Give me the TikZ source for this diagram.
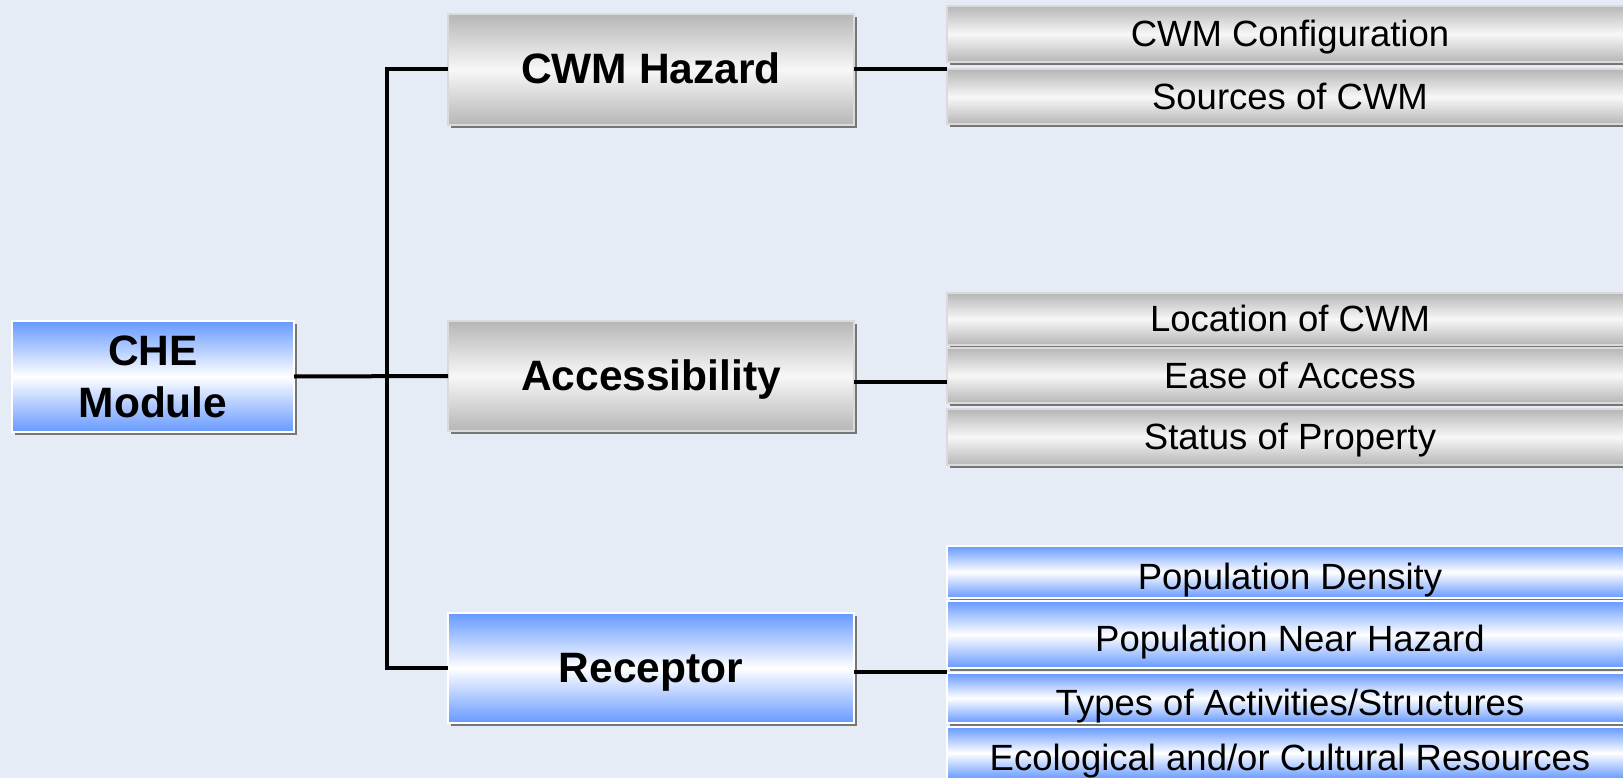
\documentclass[tikz,border=0pt]{standalone}
\usepackage{fontspec}
\setmainfont{Liberation Sans}
\usetikzlibrary{shadows}
\definecolor{bg}{RGB}{230,236,245}
\definecolor{boxblue}{RGB}{102,153,255}
\definecolor{boxgray}{RGB}{182,182,182}
\definecolor{shadowgray}{RGB}{118,118,118}
\definecolor{edgegray}{RGB}{218,218,218}
\tikzset{
  basebox/.style={rectangle, inner sep=0pt, outer sep=0pt, line width=2pt,
    drop shadow={shadow xshift=3pt, shadow yshift=-3pt, fill=shadowgray, opacity=1}},
  bluebox/.style={basebox, draw=white, top color=boxblue, bottom color=boxblue, middle color=white},
  graybox/.style={basebox, draw=edgegray, top color=boxgray, bottom color=boxgray, middle color=white!97!black},
  mainfont/.style={font=\fontsize{42.5}{52}\selectfont\bfseries, align=center},
  mainline/.style={mainfont, text height=38pt, text depth=9pt},
  subfont/.style={font=\fontsize{36.5}{40}\selectfont, text height=32pt, text depth=7pt},
  subblue/.style={font=\fontsize{36.5}{40}\selectfont, text height=41pt, text depth=7pt},
  conn/.style={line width=4pt, black}
}
\begin{document}
\begin{tikzpicture}[x=1pt,y=-1pt]
\useasboundingbox (0,0) rectangle (1623,778);
\clip (0,0) rectangle (1623,778);
\fill[bg] (0,0) rectangle (1623,778);

% left root
\node[bluebox, mainfont, minimum width=282pt, minimum height=111pt] (che) at (153,376.5) {CHE\\Module};

% middle boxes
\node[graybox, mainline, minimum width=406pt, minimum height=111pt] (haz) at (651,69.5) {CWM Hazard};
\node[graybox, mainline, minimum width=406pt, minimum height=110pt] (acc) at (651,376) {Accessibility};
\node[bluebox, mainline, minimum width=406pt, minimum height=110pt] (rec) at (651,668) {Receptor};

% right boxes
\node[graybox, subfont, minimum width=686pt, minimum height=56pt] (cfg) at (1290,34) {CWM Configuration};
\node[graybox, subfont, minimum width=686pt, minimum height=55pt] (src) at (1290,97) {Sources of CWM};

\node[graybox, subfont, minimum width=686pt, minimum height=52pt] (loc) at (1290,319) {Location of CWM};
\node[graybox, subfont, minimum width=686pt, minimum height=55pt] (ease) at (1290,375.5) {Ease of Access};
\node[graybox, subfont, minimum width=686pt, minimum height=56pt] (stat) at (1290,437) {Status of Property};

\node[bluebox, subblue, minimum width=686pt, minimum height=52pt] (pd) at (1290,572) {Population Density};
\node[bluebox, subblue, minimum width=686pt, minimum height=67pt] (pnh) at (1290,634.5) {Population Near Hazard};
\node[bluebox, subblue, minimum width=686pt, minimum height=50pt] (types) at (1290,698) {Types of Activities/Structures};
\node[bluebox, subblue, minimum width=686pt, minimum height=52pt] (eco) at (1290,753) {Ecological and/or Cultural Resources};

% connectors
\draw[conn] (che.east) -- (acc.west);
\draw[conn] (haz.west) -- ++(-61,0) coordinate (trunk) |- (rec.west);
\draw[conn] (haz.east) -- (haz.east -| cfg.west);
\draw[conn] ([yshift=-6pt]acc.east) -- ([yshift=-6pt]acc.east -| ease.west);
\draw[conn] ([yshift=-4pt]rec.east) -- ([yshift=-4pt]rec.east -| types.west);
\end{tikzpicture}
\end{document}
